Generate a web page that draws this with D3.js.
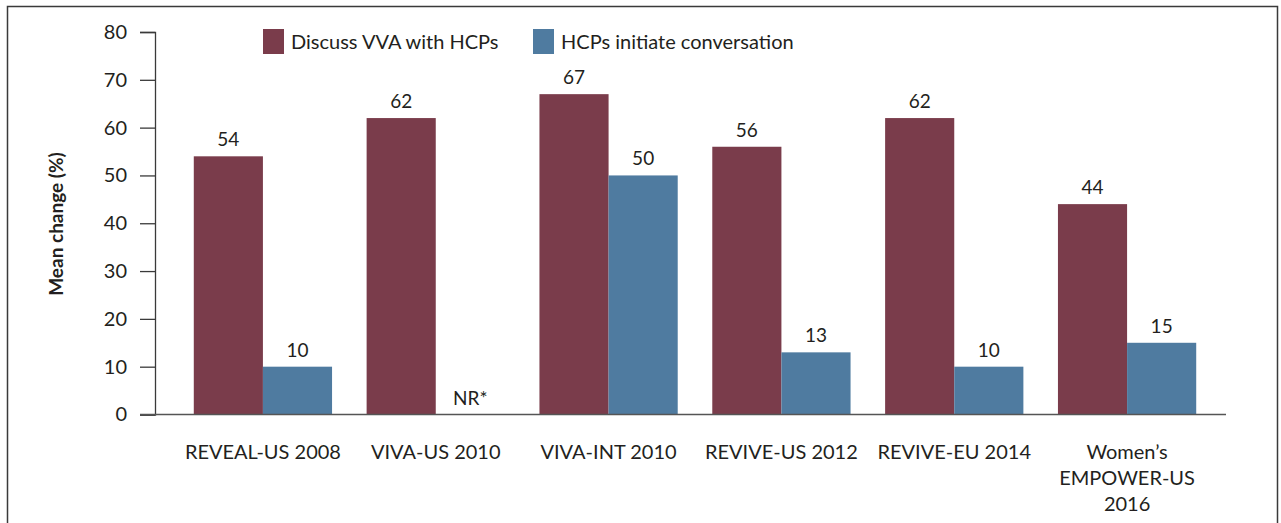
<!DOCTYPE html>
<html>
<head>
<meta charset="utf-8">
<script src="https://cdn.jsdelivr.net/npm/d3@7"></script>
<style>
  body { margin: 0; background: #fff; }
  svg text { font-family: Lato, "Open Sans", sans-serif; fill: #231f20; }
</style>
</head>
<body>
<div id="chart"></div>
<script>
// Data.
var studies = ['REVEAL-US 2008', 'VIVA-US 2010', 'VIVA-INT 2010', 'REVIVE-US 2012', 'REVIVE-EU 2014', 'Women\u2019s|EMPOWER-US|2016'];
var discussVals = [54, 62, 67, 56, 62, 44];
var initiateVals = [10, null, 50, 13, 10, 15];
var seriesNames = ['Discuss VVA with HCPs', 'HCPs initiate conversation'];
var yTicks = [0, 10, 20, 30, 40, 50, 60, 70, 80];

var colors = ['#7a3c4b', '#4f7ba0'];

drawChart();

function drawChart() {
  var w = 1281,
    h = 523;

  var svg = d3.select('#chart')
    .append('svg')
    .attr('width', w)
    .attr('height', h);

  // Outer frame (open at the bottom).
  svg.append('path')
    .attr('d', 'M7.5,' + h + ' V6.5 H1277.5 V' + h)
    .style('fill', 'none')
    .style('stroke', '#3a3a3a')
    .style('stroke-width', 1.5);

  var y = d3.scaleLinear()
    .domain([0, 80])
    .range([414.5, 32]);

  var x0 = d3.scaleBand()
    .domain(studies)
    .range([176.5, 1213.5])
    .paddingInner(0.2)
    .paddingOuter(0.1);

  var x1 = d3.scaleBand()
    .domain([0, 1])
    .range([0, x0.bandwidth()]);

  // Bars and value labels.
  var groups = svg.append('g')
    .selectAll('g')
    .data(studies)
    .enter()
    .append('g')
    .attr('transform', function (d) { return 'translate(' + x0(d) + ',0)'; });

  groups.each(function (d, i) {
    var g = d3.select(this);
    [discussVals[i], initiateVals[i]].forEach(function (v, j) {
      var cx = x1(j) + x1.bandwidth() / 2;
      if (v == null) {
        g.append('text')
          .attr('x', cx)
          .attr('y', y(0) - 10)
          .attr('text-anchor', 'middle')
          .style('font-size', '19px')
          .text('NR*');
        return;
      }
      g.append('rect')
        .attr('x', x1(j))
        .attr('y', y(v))
        .attr('width', x1.bandwidth())
        .attr('height', y(0) - y(v))
        .style('fill', colors[j]);
      g.append('text')
        .attr('x', cx)
        .attr('y', y(v) - 10)
        .attr('text-anchor', 'middle')
        .style('font-size', '19px')
        .text(v);
    });
  });

  // Y axis.
  var yAxis = svg.append('g')
    .attr('transform', 'translate(155,0)')
    .call(d3.axisLeft(y).tickValues(yTicks).tickSize(15).tickPadding(13));
  yAxis.select('.domain').style('stroke', '#3a3a3a').style('stroke-width', 1.3);
  yAxis.selectAll('line').style('stroke', '#3a3a3a').style('stroke-width', 1.3);
  yAxis.selectAll('text')
    .style('font-size', '20px')
    .style('font-family', 'Lato, sans-serif')
    .style('fill', '#231f20');

  // Baseline.
  svg.append('line')
    .attr('x1', 140)
    .attr('x2', 1226)
    .attr('y1', y(0))
    .attr('y2', y(0))
    .style('stroke', '#555')
    .style('stroke-width', 1.3);

  // Category labels.
  svg.append('g')
    .selectAll('text')
    .data(studies)
    .enter()
    .append('text')
    .attr('x', function (d) { return x0(d) + x0.bandwidth() / 2; })
    .attr('y', 459)
    .attr('text-anchor', 'middle')
    .style('font-size', '20px')
    .each(function (d) {
      var t = d3.select(this);
      d.split('|').forEach(function (line, k) {
        t.append('tspan')
          .attr('x', t.attr('x'))
          .attr('dy', k ? 26 : 0)
          .text(line);
      });
    });

  // Y title.
  svg.append('text')
    .attr('transform', 'translate(63,224) rotate(-90)')
    .attr('text-anchor', 'middle')
    .style('font-size', '19px')
    .style('font-weight', 'bold')
    .text('Mean change (%)');

  // Legend.
  var legendX = [263, 533];
  seriesNames.forEach(function (name, j) {
    svg.append('rect')
      .attr('x', legendX[j])
      .attr('y', 29)
      .attr('width', 21)
      .attr('height', 25)
      .style('fill', colors[j]);
    svg.append('text')
      .attr('x', legendX[j] + 28)
      .attr('y', 49)
      .style('font-size', '20px')
      .text(name);
  });
}
</script>
</body>
</html>
